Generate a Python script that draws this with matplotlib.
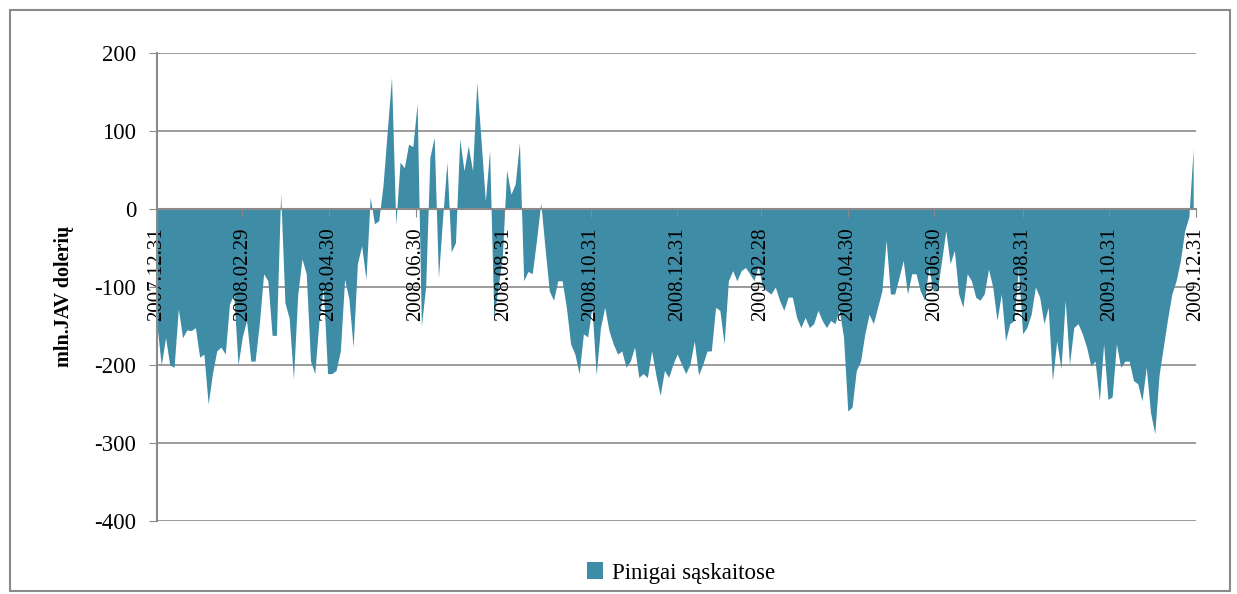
import numpy as np
import pandas as pd
import matplotlib.pyplot as plt
import matplotlib.dates as mdates
from matplotlib.patches import Patch, Rectangle

# values, one every 3 calendar days from 2007-12-31
start = "2007-12-31"
step_days = 3
pinigai = [
    -150, -200, -165, -200, -203, -128, -165, -155, -156, -152,
    -190, -186, -250, -211, -182, -177, -186, -122, -109, -200,
    -164, -143, -195, -195, -147, -83, -92, -162, -162, 20,
    -120, -140, -218, -110, -64, -83, -195, -211, -143, -100,
    -211, -211, -207, -182, -90, -115, -177, -70, -47, -90,
    15, -19, -15, 30, 100, 169, -20, 60, 53, 83,
    80, 135, -150, -100, 66, 92, -88, -10, 60, -55,
    -43, 90, 49, 81, 49, 162, 88, 10, 75, -140,
    -100, -60, 50, 19, 32, 85, -92, -80, -83, -40,
    8, -50, -105, -117, -92, -92, -126, -173, -186, -211,
    -160, -164, -126, -213, -152, -126, -156, -173, -186, -182,
    -203, -195, -177, -216, -211, -216, -182, -213, -239, -207,
    -216, -199, -186, -199, -211, -199, -169, -213, -199, -182,
    -182, -126, -130, -173, -92, -79, -92, -79, -75, -83,
    -92, -73, -100, -105, -109, -100, -117, -130, -113, -113,
    -139, -152, -139, -152, -147, -130, -143, -152, -143, -147,
    -130, -164, -259, -254, -207, -195, -160, -135, -147, -126,
    -105, -40, -109, -109, -88, -66, -109, -83, -83, -105,
    -117, -75, -105, -105, -66, -28, -70, -53, -109, -126,
    -83, -92, -113, -117, -109, -77, -100, -143, -109, -169,
    -147, -143, -75, -160, -152, -135, -100, -113, -147, -126,
    -220, -169, -205, -117, -199, -152, -147, -160, -177, -201,
    -195, -246, -173, -244, -241, -173, -203, -195, -195, -220,
    -224, -246, -203, -261, -288, -213, -177, -141, -109, -92,
    -66, -28, -10, 77,
]
tick_dates = ["2007-12-31", "2008-02-29", "2008-04-30", "2008-06-30",
              "2008-08-31", "2008-10-31", "2008-12-31", "2009-02-28",
              "2009-04-30", "2009-06-30", "2009-08-31", "2009-10-31",
              "2009-12-31"]
y_ticks = [-400, -300, -200, -100, 0, 100, 200]

dates = pd.date_range(start, periods=len(pinigai), freq=f"{step_days}D")
ticks = pd.to_datetime(tick_dates)

FILL = "#3e8ca5"
GRID = "#8a8a8a"
SERIF = ["Liberation Serif", "DejaVu Serif"]

plt.rcParams["font.family"] = SERIF

fig = plt.figure(figsize=(12.37, 5.94), dpi=100)
ax = fig.add_axes([157 / 1237, 1 - 521 / 594, (1196 - 157) / 1237, (521 - 53) / 594])

# outer chart border
fig.patches.append(Rectangle((10 / 1237, 3 / 594), 1220 / 1237, 581 / 594,
                             transform=fig.transFigure, fill=False,
                             edgecolor=GRID, linewidth=1.5))

for yv in y_ticks:
    ax.axhline(yv, color=GRID, linewidth=1.2, zorder=0)

ax.fill_between(dates, pinigai, 0, color=FILL, linewidth=0, zorder=1)

ax.set_xlim(ticks[0], ticks[-1])
ax.set_ylim(-400, 200)
ax.set_yticks(y_ticks)
ax.set_yticklabels([str(v) for v in y_ticks], fontsize=16.5)
ax.set_xticks(ticks)
ax.xaxis.set_major_formatter(mdates.DateFormatter("%Y.%m.%d"))

for s in ["top", "right"]:
    ax.spines[s].set_visible(False)
ax.spines["left"].set_color(GRID)
ax.spines["left"].set_linewidth(1.5)
ax.spines["bottom"].set_position(("data", 0))
ax.spines["bottom"].set_color(GRID)
ax.spines["bottom"].set_linewidth(1.5)
ax.tick_params(axis="y", length=6, color=GRID, pad=9)
ax.tick_params(axis="x", length=6, color=GRID, pad=7,
               labelrotation=90, labelsize=15)

ax.set_ylabel("mln.JAV dolerių", fontsize=14.5, fontweight="bold")
ax.yaxis.set_label_coords(-0.08, 0.48)

fig.legend(handles=[Patch(facecolor=FILL, edgecolor="none")],
           labels=["Pinigai sąskaitose"], loc="center",
           bbox_to_anchor=(681 / 1237, 1 - 573 / 594), frameon=False,
           fontsize=16.5, handlelength=0.7, handleheight=0.7, handletextpad=0.4)

fig.savefig("out.png", dpi=100, facecolor="white")
